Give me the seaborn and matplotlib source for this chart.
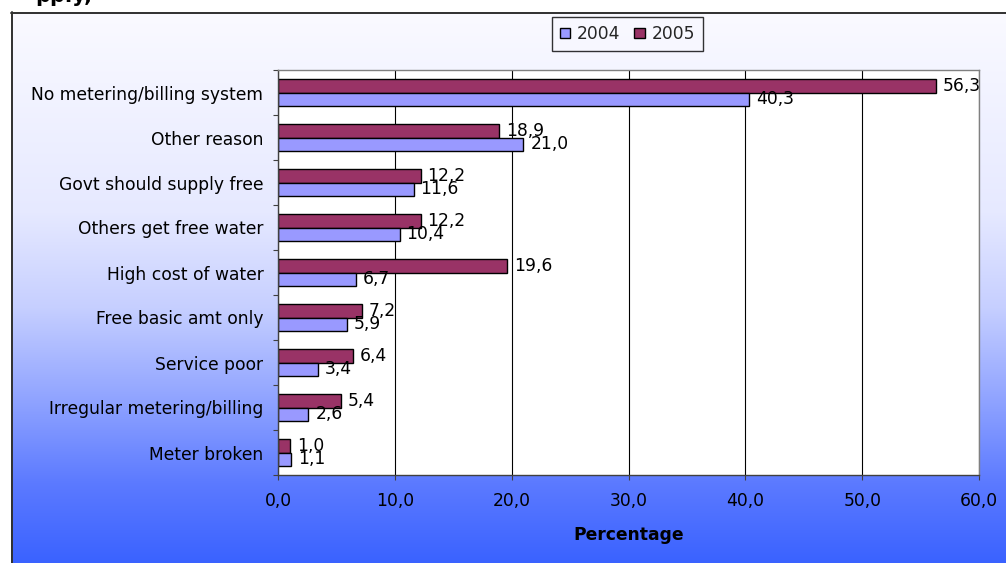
import numpy as np
import pandas as pd
import matplotlib
matplotlib.use("Agg")
import matplotlib.pyplot as plt
from matplotlib.patches import Patch
from matplotlib.lines import Line2D
from matplotlib.ticker import FuncFormatter, MultipleLocator
import seaborn as sns

# Reasons for not paying, share of households (%)
reasons = [
    "No metering/billing system",
    "Other reason",
    "Govt should supply free",
    "Others get free water",
    "High cost of water",
    "Free basic amt only",
    "Service poor",
    "Irregular metering/billing",
    "Meter broken",
]
pct_2004 = [40.3, 21.0, 11.6, 10.4, 6.7, 5.9, 3.4, 2.6, 1.1]
pct_2005 = [56.3, 18.9, 12.2, 12.2, 19.6, 7.2, 6.4, 5.4, 1.0]
years = ["2004", "2005"]
year_colors = {"2004": "#9999FF", "2005": "#993366"}

df = pd.DataFrame({
    "reason": reasons * 2,
    "year": ["2004"] * len(reasons) + ["2005"] * len(reasons),
    "pct": pct_2004 + pct_2005,
})

sns.set_theme(style="white")
plt.rcParams["font.family"] = ["DejaVu Sans"]

FS = 12.3
W, H = 1006, 563
fig = plt.figure(figsize=(W / 100, H / 100), dpi=100)
fig.patch.set_facecolor("white")

# gradient backdrop of the chart area
bg = fig.add_axes([11 / W, 0, 1 - 11 / W, 1 - 12 / H], zorder=-5)
stops_y = np.array([0, 200, 295, 390, 470, 551])
stops_c = np.array([
    [250, 250, 255],
    [230, 233, 255],
    [198, 207, 255],
    [142, 162, 255],
    [92, 122, 255],
    [58, 98, 255],
]) / 255.0
rows = np.arange(551)
grad = np.stack([np.interp(rows, stops_y, stops_c[:, k]) for k in range(3)], axis=-1)
grad = np.repeat(grad[:, None, :], 2, axis=1)
bg.imshow(grad, aspect="auto", extent=[0, 1, 0, 1], origin="upper")
bg.set_axis_off()

# chart frame (left and top edges)
fig.add_artist(Line2D([11.5 / W, 11.5 / W], [0, 1 - 12 / H], transform=fig.transFigure,
                      color="#303030", lw=1.4))
fig.add_artist(Line2D([11 / W, 1], [1 - 12.5 / H, 1 - 12.5 / H], transform=fig.transFigure,
                      color="#303030", lw=1.4))

# heading fragment running off the top edge
fig.text(35 / W, 1 - 1.5 / H, "pply,", fontsize=15, fontweight="bold",
         va="baseline", ha="left", color="black")

ax = fig.add_axes([278 / W, (H - 475) / H, (979 - 278) / W, (475 - 70) / H])
ax.set_facecolor("white")

sns.barplot(data=df, y="reason", x="pct", hue="year", hue_order=["2005", "2004"],
            order=reasons, palette=year_colors, orient="h", width=0.58, gap=0,
            edgecolor="black", linewidth=1.0, saturation=1, ax=ax, legend=False)

def comma(v):
    return f"{v:.1f}".replace(".", ",")

for cont, vals in zip(ax.containers, [pct_2005, pct_2004]):
    ax.bar_label(cont, labels=[comma(v) for v in vals], padding=5,
                 fontsize=FS, color="black")

ax.set_xlim(0, 60)
ax.set_ylim(len(reasons) - 0.5, -0.5)
ax.xaxis.set_major_locator(MultipleLocator(10))
ax.xaxis.set_major_formatter(FuncFormatter(lambda v, p: comma(v)))
ax.set_yticks(np.arange(len(reasons)))
ax.set_yticklabels(reasons)
# category boundary ticks
ax.set_yticks(np.concatenate([[-0.5], np.arange(len(reasons)) + 0.5]), minor=True)

ax.grid(axis="x", color="black", lw=0.8)
ax.grid(axis="y", visible=False)
ax.set_axisbelow(True)

ax.tick_params(axis="y", which="major", length=0, pad=10.5, labelsize=FS, colors="black")
ax.tick_params(axis="y", which="minor", left=True, length=3.6, width=0.8, color="#404040")
ax.tick_params(axis="x", which="major", bottom=True, length=3.6, width=0.8, color="#404040",
               pad=8.5, labelsize=FS, labelcolor="black")

for side in ["left", "bottom"]:
    ax.spines[side].set_color("#404040")
    ax.spines[side].set_linewidth(1.0)
for side in ["top", "right"]:
    ax.spines[side].set_color("#808080")
    ax.spines[side].set_linewidth(1.0)

ax.set_ylabel("")
ax.set_xlabel("Percentage", fontsize=12.3, fontweight="bold", color="black")
ax.xaxis.set_label_coords(0.5, -0.125)
ax.xaxis.label.set_va("top")

handles = [Patch(facecolor=year_colors[y], edgecolor="black", linewidth=1.0, label=y) for y in years]
leg = fig.legend(handles=handles, loc="center", bbox_to_anchor=(627.5 / W, 1 - 34 / H),
                 ncol=2, fontsize=FS, frameon=True, fancybox=False, handlelength=0.6,
                 handleheight=0.6, handletextpad=0.4, columnspacing=0.8, borderpad=0.45,
                 borderaxespad=0)
leg.get_frame().set_edgecolor("black")
leg.get_frame().set_linewidth(1.0)
leg.get_frame().set_facecolor("#F8F8FF")

fig.savefig("out.png", dpi=100)
